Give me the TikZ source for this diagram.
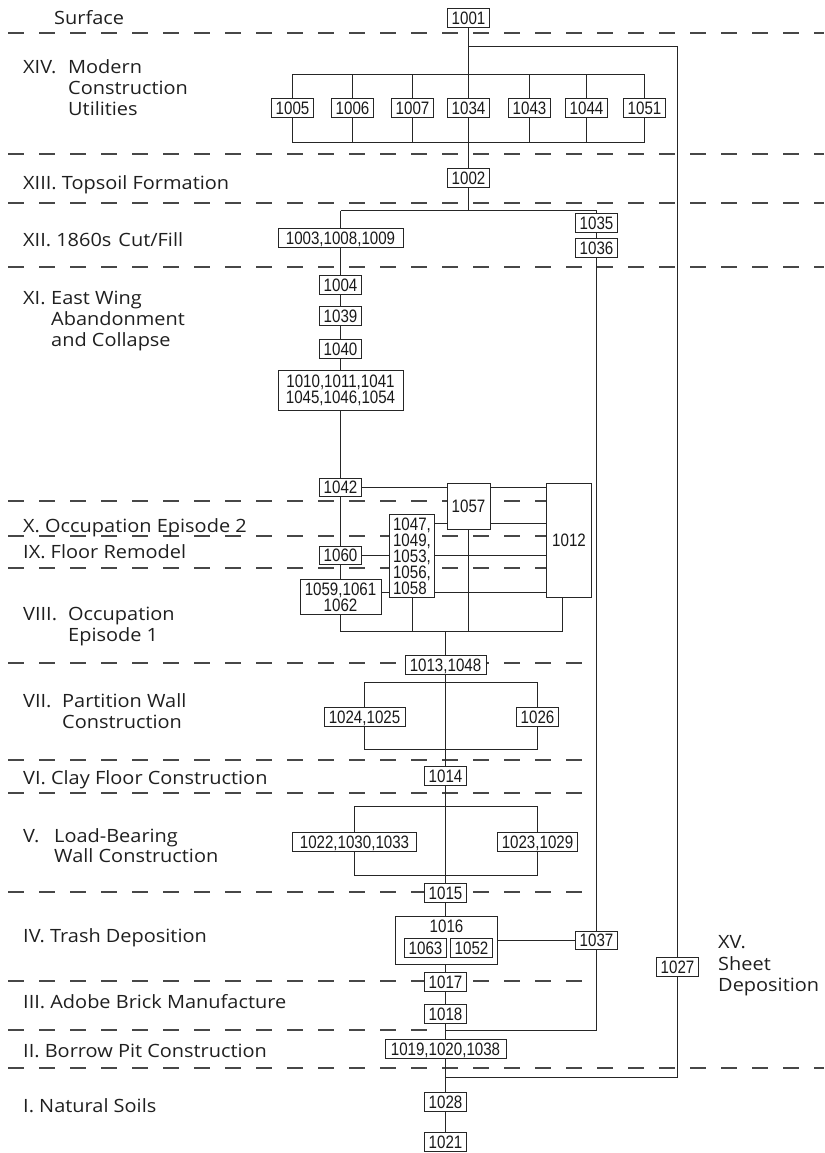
\documentclass[tikz,border=0pt]{standalone}
\usepackage{fontspec}
\newfontfamily\labfont[FakeStretch=1.09]{Open Sans}
\newfontfamily\numfont[FakeStretch=0.84]{Liberation Sans}
\usetikzlibrary{calc}
\pgfdeclarelayer{background}
\pgfsetlayers{background,main}
\tikzset{
  nb/.style={draw=black!85, fill=white, line width=1pt, font=\numfont\fontsize{18}{16}\selectfont, text=black!90, inner xsep=3pt, inner ysep=3pt, text height=12.9pt, text depth=0pt, minimum width=42pt},
  nbm/.style={draw=black!85, fill=white, line width=1pt, font=\numfont\fontsize{18}{16}\selectfont, text=black!90, inner sep=3pt},
  lab/.style={anchor=base west, inner sep=0pt, font=\labfont\fontsize{18.3}{21}\selectfont, text=black!88},
  conn/.style={draw=black!85, line width=0.9pt},
  sepline/.style={draw=black!72, line width=1.5pt, dash pattern=on 16pt off 15pt},
}
\begin{document}
\begin{tikzpicture}[x=1pt,y=-1pt]
\useasboundingbox (0,0) rectangle (824,1153);

% ---- layer labels
\node[lab] (Lsurf) at (54,25) {Surface};
\node[lab] (L14a) at (23,74) {\makebox[45pt][l]{XIV.}Modern};
\node[lab] (L14b) at (68,95) {Construction};
\node[lab] (L14c) at (68,116) {Utilities};
\node[lab] (L13) at (23,189) {XIII. Topsoil Formation};
\node[lab] (L12) at (23,246) {XII. 1860s\hspace{7pt}Cut/Fill};
\node[lab] (L11a) at (23,304) {\makebox[28pt][l]{XI.}East Wing};
\node[lab] (L11b) at (51,325) {Abandonment};
\node[lab] (L11c) at (51,346) {and Collapse};
\node[lab] (L10) at (23,532) {X. Occupation Episode 2};
\node[lab] (L9) at (23,558) {IX. Floor Remodel};
\node[lab] (L8a) at (23,620) {\makebox[45pt][l]{VIII.}Occupation};
\node[lab] (L8b) at (68,641) {Episode 1};
\node[lab] (L7a) at (23,707) {\makebox[39pt][l]{VII.}Partition Wall};
\node[lab] (L7b) at (62,728) {Construction};
\node[lab] (L6) at (23,784) {VI. Clay Floor Construction};
\node[lab] (L5a) at (23,842) {\makebox[31pt][l]{V.}Load-Bearing};
\node[lab] (L5b) at (54,862) {Wall Construction};
\node[lab] (L4) at (23,942) {IV. Trash Deposition};
\node[lab] (L3) at (23,1008) {III. Adobe Brick Manufacture};
\node[lab] (L2) at (23,1057) {II. Borrow Pit Construction};
\node[lab] (L1) at (23,1112) {I. Natural Soils};
\node[lab] (L15a) at (718,948) {XV.};
\node[lab] (L15b) at (718,970) {Sheet};
\node[lab] (L15c) at (718,991) {Deposition};

% ---- context boxes
\node[nb] (n1001) at (468.5,18) {1001};
\node[nb] (n1005) at (292.5,108) {1005};
\node[nb] (n1006) at (352.5,108) {1006};
\node[nb] (n1007) at (412.5,108) {1007};
\node[nb] (n1034) at (468.5,108) {1034};
\node[nb] (n1043) at (529.5,108) {1043};
\node[nb] (n1044) at (586.5,108) {1044};
\node[nb] (n1051) at (644.5,108) {1051};
\node[nb] (n1002) at (468.5,178) {1002};
\node[nb, minimum width=125pt] (n1003) at (340.5,238) {1003,1008,1009};
\node[nb] (n1035) at (596.5,223) {1035};
\node[nb] (n1036) at (596.5,248) {1036};
\node[nb] (n1004) at (340.5,285) {1004};
\node[nb] (n1039) at (340.5,316) {1039};
\node[nb] (n1040) at (340.5,349) {1040};
\node[nbm, align=center, minimum width=125pt, minimum height=40pt] (n1010) at (340.5,390) {1010,1011,1041\\1045,1046,1054};
\node[nb] (n1042) at (340.5,487.5) {1042};
\node[nbm, minimum width=43pt, minimum height=46pt] (n1057) at (468.5,506) {1057};
\node[nbm, minimum width=45pt, minimum height=114pt] (n1012) at (569,540) {1012};
\node[nbm, align=left, minimum width=45pt] (n1047) at (412,556) {1047,\\1049,\\1053,\\1056,\\1058};
\node[nb] (n1060) at (340.5,555.5) {1060};
\node[nbm, align=center, minimum width=81pt, minimum height=35pt] (n1059) at (340.5,597) {1059,1061\\1062};
\node[nb, minimum width=81pt] (n1013) at (445.5,665) {1013,1048};
\node[nb, minimum width=81pt] (n1024) at (364.5,717) {1024,1025};
\node[nb] (n1026) at (537.5,717) {1026};
\node[nb] (n1014) at (445.5,776) {1014};
\node[nb, minimum width=124pt] (n1022) at (354.5,842) {1022,1030,1033};
\node[nb, minimum width=80pt] (n1023) at (537.5,842) {1023,1029};
\node[nb] (n1015) at (445.5,893) {1015};
\node[draw=black!85, fill=white, line width=1pt, minimum width=102pt, minimum height=48pt, inner sep=0pt] (n1016) at (446.5,940) {};
\node[font=\numfont\fontsize{18}{16}\selectfont, text=black!90, inner sep=0pt, text height=12.9pt, text depth=0pt] (n1016t) at (446.5,926) {1016};
\node[nb] (n1063) at (425.5,948) {1063};
\node[nb] (n1052) at (471.5,948) {1052};
\node[nb] (n1037) at (596.5,940.5) {1037};
\node[nb] (n1027) at (677.5,967) {1027};
\node[nb] (n1017) at (445.5,982) {1017};
\node[nb] (n1018) at (445.5,1014) {1018};
\node[nb, minimum width=121pt] (n1019) at (445.5,1049) {1019,1020,1038};
\node[nb] (n1028) at (445.5,1102) {1028};
\node[nb] (n1021) at (445.5,1142) {1021};

% ---- helper coordinates
\coordinate (t1) at (0,74.5);
\coordinate (t2) at (0,142.5);
\coordinate (r1) at (677.5,46.5);
\coordinate (r2) at (677.5,1077.5);
\coordinate (s) at (468.5,210.5);
\coordinate (y523) at (0,523.5);
\coordinate (y592) at (0,592.5);
\coordinate (bb) at (0,631.5);
\coordinate (bbR) at (562.5,631.5);
\coordinate (p1) at (0,682.5);
\coordinate (p2) at (0,749.5);
\coordinate (l1) at (0,806.5);
\coordinate (l2) at (0,875.5);
\coordinate (b3) at (0,1030.5);

\begin{pgfonlayer}{background}
% dashed phase boundaries
\draw[sepline] (8,33) -- (824,33);
\draw[sepline] (8,154) -- (824,154);
\draw[sepline] (8,203) -- (824,203);
\draw[sepline] (8,267) -- (824,267);
\draw[sepline] (8,501) -- (547,501);
\draw[sepline] (8,536) -- (547,536);
\draw[sepline] (8,568) -- (547,568);
\draw[sepline] (8,663) -- (592,663);
\draw[sepline] (8,760) -- (592,760);
\draw[sepline] (8,793) -- (592,793);
\draw[sepline] (8,892) -- (592,892);
\draw[sepline] (8,981) -- (592,981);
\draw[sepline] (8,1030) -- (440,1030);
\draw[sepline] (8,1068) -- (824,1068);

% connectors
\draw[conn] (n1005 |- t1) -- (n1051 |- t1);
\draw[conn] (n1005 |- t2) -- (n1051 |- t2);
\foreach \n in {n1005,n1006,n1007,n1043,n1044,n1051}
  \draw[conn] (\n |- t1) -- (\n) -- (\n |- t2);
\draw[conn] (n1001) -- (n1034) -- (n1002);
\draw[conn] (n1001 |- r1) -- (r1) -- (n1027) -- (r2) -- (n1028 |- r2);
\draw[conn] (n1002) -- (s);
\draw[conn] (n1003 |- s) -- (n1035 |- s);
\draw[conn] (n1003 |- s) -- (n1003);
\draw[conn] (n1035 |- s) -- (n1035) -- (n1036) -- (n1037) -- (n1037 |- b3) -- (n1018 |- b3);
\draw[conn] (n1003) -- (n1004) -- (n1039) -- (n1040) -- (n1010) -- (n1042) -- (n1060) -- (n1059) -- (n1059 |- bb);
\draw[conn] (n1042.east) -- (n1057.west |- n1042.east);
\draw[conn] (n1057.east |- n1042.east) -- (n1012.west |- n1042.east);
\draw[conn] (n1047.east |- y523) -- (n1057.west |- y523);
\draw[conn] (n1057.east |- y523) -- (n1012.west |- y523);
\draw[conn] (n1060.east) -- (n1047.west |- n1060.east);
\draw[conn] (n1047.east |- n1060.east) -- (n1012.west |- n1060.east);
\draw[conn] (n1059.east |- y592) -- (n1047.west |- y592);
\draw[conn] (n1047.east |- y592) -- (n1012.west |- y592);
\draw[conn] (n1059 |- bb) -- (bbR) -- (bbR |- n1012.south);
\draw[conn] (n1047.south) -- (n1047 |- bb);
\draw[conn] (n1057) -- (n1057 |- bb);
\draw[conn] (n1013 |- bb) -- (n1013) -- (n1014) -- (n1015) -- (n1015 |- n1016.north);
\draw[conn] (n1024 |- p1) rectangle (n1026 |- p2);
\draw[conn] (n1022 |- l1) rectangle (n1023 |- l2);
\draw[conn] (n1016.east |- n1037) -- (n1037);
\draw[conn] (n1017 |- n1016.south) -- (n1017) -- (n1018) -- (n1019) -- (n1028) -- (n1021);
\end{pgfonlayer}
\end{tikzpicture}
\end{document}
